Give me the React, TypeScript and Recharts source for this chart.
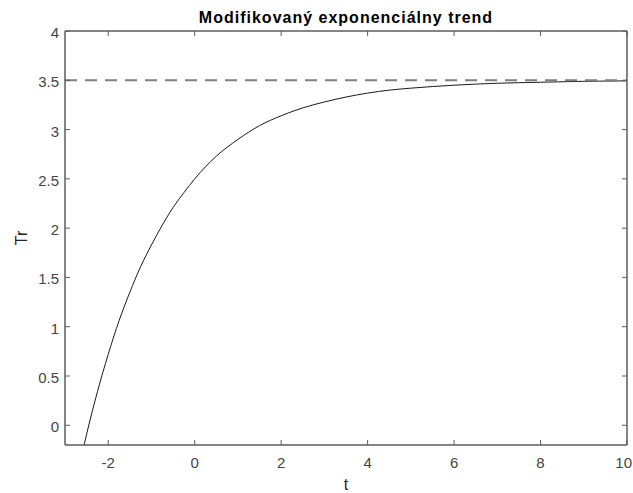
import React from 'react';
import { LineChart, Line, XAxis, YAxis, ReferenceLine } from 'recharts';

// values
const tValues = [-2.75, -2.5, -2.25, -2, -1.75, -1.5, -1.25, -1, -0.75, -0.5, -0.25, 0, 0.5, 1, 1.5, 2, 2.5, 3, 3.5, 4, 4.5, 5, 6, 7, 8, 9, 10];
const trValues = [-0.58, -0.09, 0.34, 0.72, 1.06, 1.35, 1.61, 1.83, 2.03, 2.21, 2.36, 2.5, 2.73, 2.9, 3.04, 3.14, 3.22, 3.28, 3.33, 3.37, 3.4, 3.42, 3.45, 3.47, 3.48, 3.49, 3.494];
const xTicks = [-2, 0, 2, 4, 6, 8, 10];
const yTicks = [0, 0.5, 1, 1.5, 2, 2.5, 3, 3.5, 4];
const asymptote = 3.5;

const W = 633;
const H = 493;
const M = { top: 31, right: 6, bottom: 0, left: 0 };
const Y_AXIS_W = 65;
const X_AXIS_H = 48;
const PLOT_W = W - M.left - M.right - Y_AXIS_W;
const PLOT_H = H - M.top - M.bottom - X_AXIS_H;

const AXIS = '#5c5c5c';
const TEXT = '#444';
const FONT = '"Liberation Sans", Arial, sans-serif';

const data = tValues.map((t, i) => ({ t, tr: trValues[i] }));

// MATLAB style: ticks point inward, mirrored on the top side
const BottomTick = ({ x, y, payload }: any) => {
  const last = payload.value === xTicks[xTicks.length - 1];
  return (
    <g>
      <line x1={x} x2={x} y1={y} y2={y - 5} stroke={AXIS} />
      <line x1={x} x2={x} y1={y - PLOT_H} y2={y - PLOT_H + 5} stroke={AXIS} />
      <text
        x={last ? W - 1 : x}
        y={y + 23}
        textAnchor={last ? 'end' : 'middle'}
        fill={TEXT}
        fontSize={15}
        fontFamily={FONT}
      >
        {payload.value}
      </text>
    </g>
  );
};

const LeftTick = ({ x, y, payload }: any) => (
  <g>
    <line x1={x} x2={x + 5} y1={y} y2={y} stroke={AXIS} />
    <line x1={x + PLOT_W} x2={x + PLOT_W - 5} y1={y} y2={y} stroke={AXIS} />
    <text x={x - 6} y={y + 7} textAnchor="end" fill={TEXT} fontSize={15} fontFamily={FONT}>
      {payload.value}
    </text>
  </g>
);

export default function App() {
  return (
    <div style={{ position: 'absolute', left: 0, top: 0, background: '#fff' }}>
      <LineChart width={W} height={H} data={data} margin={M}>
        <XAxis
          dataKey="t"
          type="number"
          domain={[-3, 10]}
          ticks={xTicks}
          interval={0}
          allowDataOverflow
          height={X_AXIS_H}
          tickSize={0}
          tickMargin={0}
          tickLine={false}
          axisLine={{ stroke: AXIS, strokeWidth: 1.5 }}
          tick={<BottomTick />}
          label={() => (
            <g>
              <text x={346} y={490} textAnchor="middle" fill="#262626" fontSize={16} fontFamily={FONT}>
                t
              </text>
              <text
                x={346}
                y={23}
                textAnchor="middle"
                fill="#000"
                fontSize={16}
                fontWeight="bold"
                letterSpacing={1}
                fontFamily={FONT}
              >
                Modifikovaný exponenciálny trend
              </text>
            </g>
          )}
        />
        <YAxis
          type="number"
          domain={[-0.2, 4]}
          ticks={yTicks}
          interval={0}
          allowDataOverflow
          width={Y_AXIS_W}
          tickSize={0}
          tickMargin={0}
          tickLine={false}
          axisLine={{ stroke: AXIS, strokeWidth: 1.5 }}
          tick={<LeftTick />}
          label={() => (
            <text x={27} y={238} transform="rotate(-90 27 238)" textAnchor="middle" fill="#262626" fontSize={16} fontFamily={FONT}>
              Tr
            </text>
          )}
        />
        {/* box: top and right edges */}
        <ReferenceLine y={4} stroke={AXIS} strokeWidth={1.5} />
        <ReferenceLine x={10} stroke={AXIS} strokeWidth={1.5} />
        <Line
          dataKey="tr"
          type="monotone"
          stroke="#1a1a1a"
          strokeWidth={1}
          dot={false}
          activeDot={false}
          isAnimationActive={false}
        />
        <ReferenceLine y={asymptote} stroke="#808080" strokeWidth={2} strokeDasharray="12 8" />
      </LineChart>
    </div>
  );
}
